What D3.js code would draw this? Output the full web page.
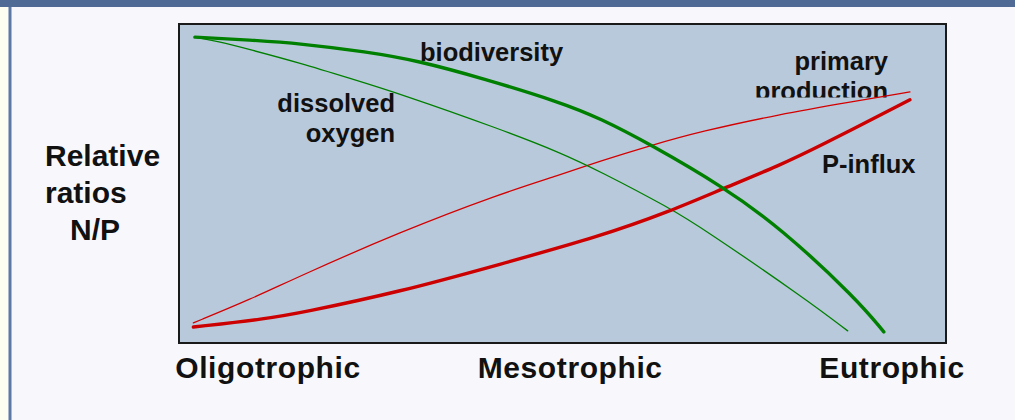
<!DOCTYPE html>
<html>
<head>
<meta charset="utf-8">
<script src="https://cdn.jsdelivr.net/npm/d3@7"></script>
<style>
  html, body { margin: 0; padding: 0; background: #f8f8fc; }
  svg { display: block; }
  text { font-family: "Liberation Sans", Arial, sans-serif; font-weight: bold; fill: #111; }
</style>
</head>
<body>
<svg id="chart" width="1015" height="420"></svg>
<script>
// Trophic gradient (0 = oligotrophic, 100 = eutrophic) vs relative level (0..100)
const biodiversityX = [2.2, 9.4, 15.9, 24.6, 31.1, 39.7, 49.7, 54.9, 61.5, 71.0, 78.4, 88.4, 91.9];
const biodiversityY = [95.9, 95.0, 93.9, 91.3, 88.6, 83.0, 75.6, 70.6, 62.4, 49.1, 36.4, 14.0, 3.8];

const oxygenX = [2.2, 5.1, 9.4, 15.9, 22.4, 28.9, 41.9, 49.7, 54.9, 64.1, 68.4, 81.9, 87.2];
const oxygenY = [95.9, 94.6, 92.0, 87.8, 83.0, 78.2, 67.2, 59.9, 54.0, 42.4, 36.0, 13.8, 4.1];

const productionX = [2.0, 9.4, 15.9, 28.9, 41.9, 49.7, 54.9, 61.5, 68.0, 78.4, 87.5, 95.3];
const productionY = [6.6, 13.9, 21.3, 35.0, 46.9, 52.8, 57.1, 62.0, 66.4, 71.8, 75.6, 78.8];

const influxX = [2.0, 11.6, 15.9, 28.9, 41.9, 54.9, 64.1, 71.0, 78.4, 83.2, 95.3];
const influxY = [5.3, 7.9, 9.7, 16.3, 24.9, 33.6, 41.5, 48.6, 55.9, 61.4, 76.3];

// Trophic state names along the bottom and where they sit on the gradient
const stageLabels = ["Oligotrophic", "Mesotrophic", "Eutrophic"];
const stagePositions = [11.65, 51.0, 92.9];

const yTitleLines = ["Relative", "ratios", "N/P"];

const svg = d3.select("#chart");
const W = 1015, H = 420;

// slide frame
svg.append("rect").attr("x", 0).attr("y", 0).attr("width", W).attr("height", H).attr("fill", "#f8f8fc");
svg.append("rect").attr("x", 0).attr("y", 0).attr("width", 8.5).attr("height", H).attr("fill", "#fdfdf0");
svg.append("rect").attr("x", 8.5).attr("y", 0).attr("width", 3).attr("height", H).attr("fill", "#5b79a4");
svg.append("rect").attr("x", 0).attr("y", 0).attr("width", W).attr("height", 7).attr("fill", "#4e6a95");

const plot = { left: 178, right: 946, top: 24, bottom: 344 };
const x = d3.scaleLinear().domain([0, 100]).range([plot.left, plot.right]);
const y = d3.scaleLinear().domain([0, 100]).range([plot.bottom, plot.top]);

// plot area
svg.append("rect")
  .attr("x", plot.left + 1).attr("y", plot.top)
  .attr("width", plot.right - plot.left - 1).attr("height", plot.bottom - plot.top - 1)
  .attr("fill", "#b9c9dc").attr("stroke", "#1a1a1a").attr("stroke-width", 2);

// series labels inside the plot
const inner = svg.append("g").style("font-size", "25.5px");
inner.append("text").attr("x", 420).attr("y", 61).text("biodiversity");
inner.append("text").attr("x", 395).attr("y", 112).attr("text-anchor", "end").text("dissolved");
inner.append("text").attr("x", 395).attr("y", 142).attr("text-anchor", "end").text("oxygen");
inner.append("text").attr("x", 888).attr("y", 70).attr("text-anchor", "end").text("primary");

svg.append("clipPath").attr("id", "prodClip")
  .append("rect").attr("x", 700).attr("y", 60).attr("width", 240).attr("height", 37.5);
inner.append("text").attr("x", 888).attr("y", 99.5).attr("text-anchor", "end")
  .attr("clip-path", "url(#prodClip)").text("production");
inner.append("text").attr("x", 822).attr("y", 173).text("P-influx");

// curves
const line = d3.line().x(d => x(d[0])).y(d => y(d[1])).curve(d3.curveBasis);
const zip = (xs, ys) => xs.map((v, i) => [v, ys[i]]);
const series = [
  { xs: productionX, ys: productionY, color: "#d40000", w: 1.3 },
  { xs: oxygenX, ys: oxygenY, color: "#008000", w: 1.3 },
  { xs: influxX, ys: influxY, color: "#cc0000", w: 3.4 },
  { xs: biodiversityX, ys: biodiversityY, color: "#008000", w: 3.4 }
];
svg.append("g").selectAll("path").data(series).join("path")
  .attr("d", s => line(zip(s.xs, s.ys)))
  .attr("fill", "none")
  .attr("stroke", s => s.color)
  .attr("stroke-width", s => s.w)
  .attr("stroke-linecap", "round")
  .attr("stroke-linejoin", "round");

// trophic state axis
const axis = d3.axisBottom(x)
  .tickValues(stagePositions)
  .tickSize(0)
  .tickPadding(0)
  .tickFormat((d, i) => stageLabels[i]);
const ax = svg.append("g").attr("transform", `translate(0, 356)`).call(axis);
ax.select(".domain").remove();
ax.selectAll("text")
  .attr("dy", 0).attr("y", 22)
  .style("font-family", "'Liberation Sans', Arial, sans-serif")
  .style("font-weight", "bold")
  .style("font-size", "30px")
  .style("letter-spacing", "0.6px")
  .attr("fill", "#111");

// y-axis title
const yt = svg.append("g").style("font-size", "30px");
yt.selectAll("text").data(yTitleLines).join("text")
  .attr("x", (d, i) => i === 2 ? 70 : 45)
  .attr("y", (d, i) => 166 + i * 37)
  .text(d => d);
</script>
</body>
</html>
